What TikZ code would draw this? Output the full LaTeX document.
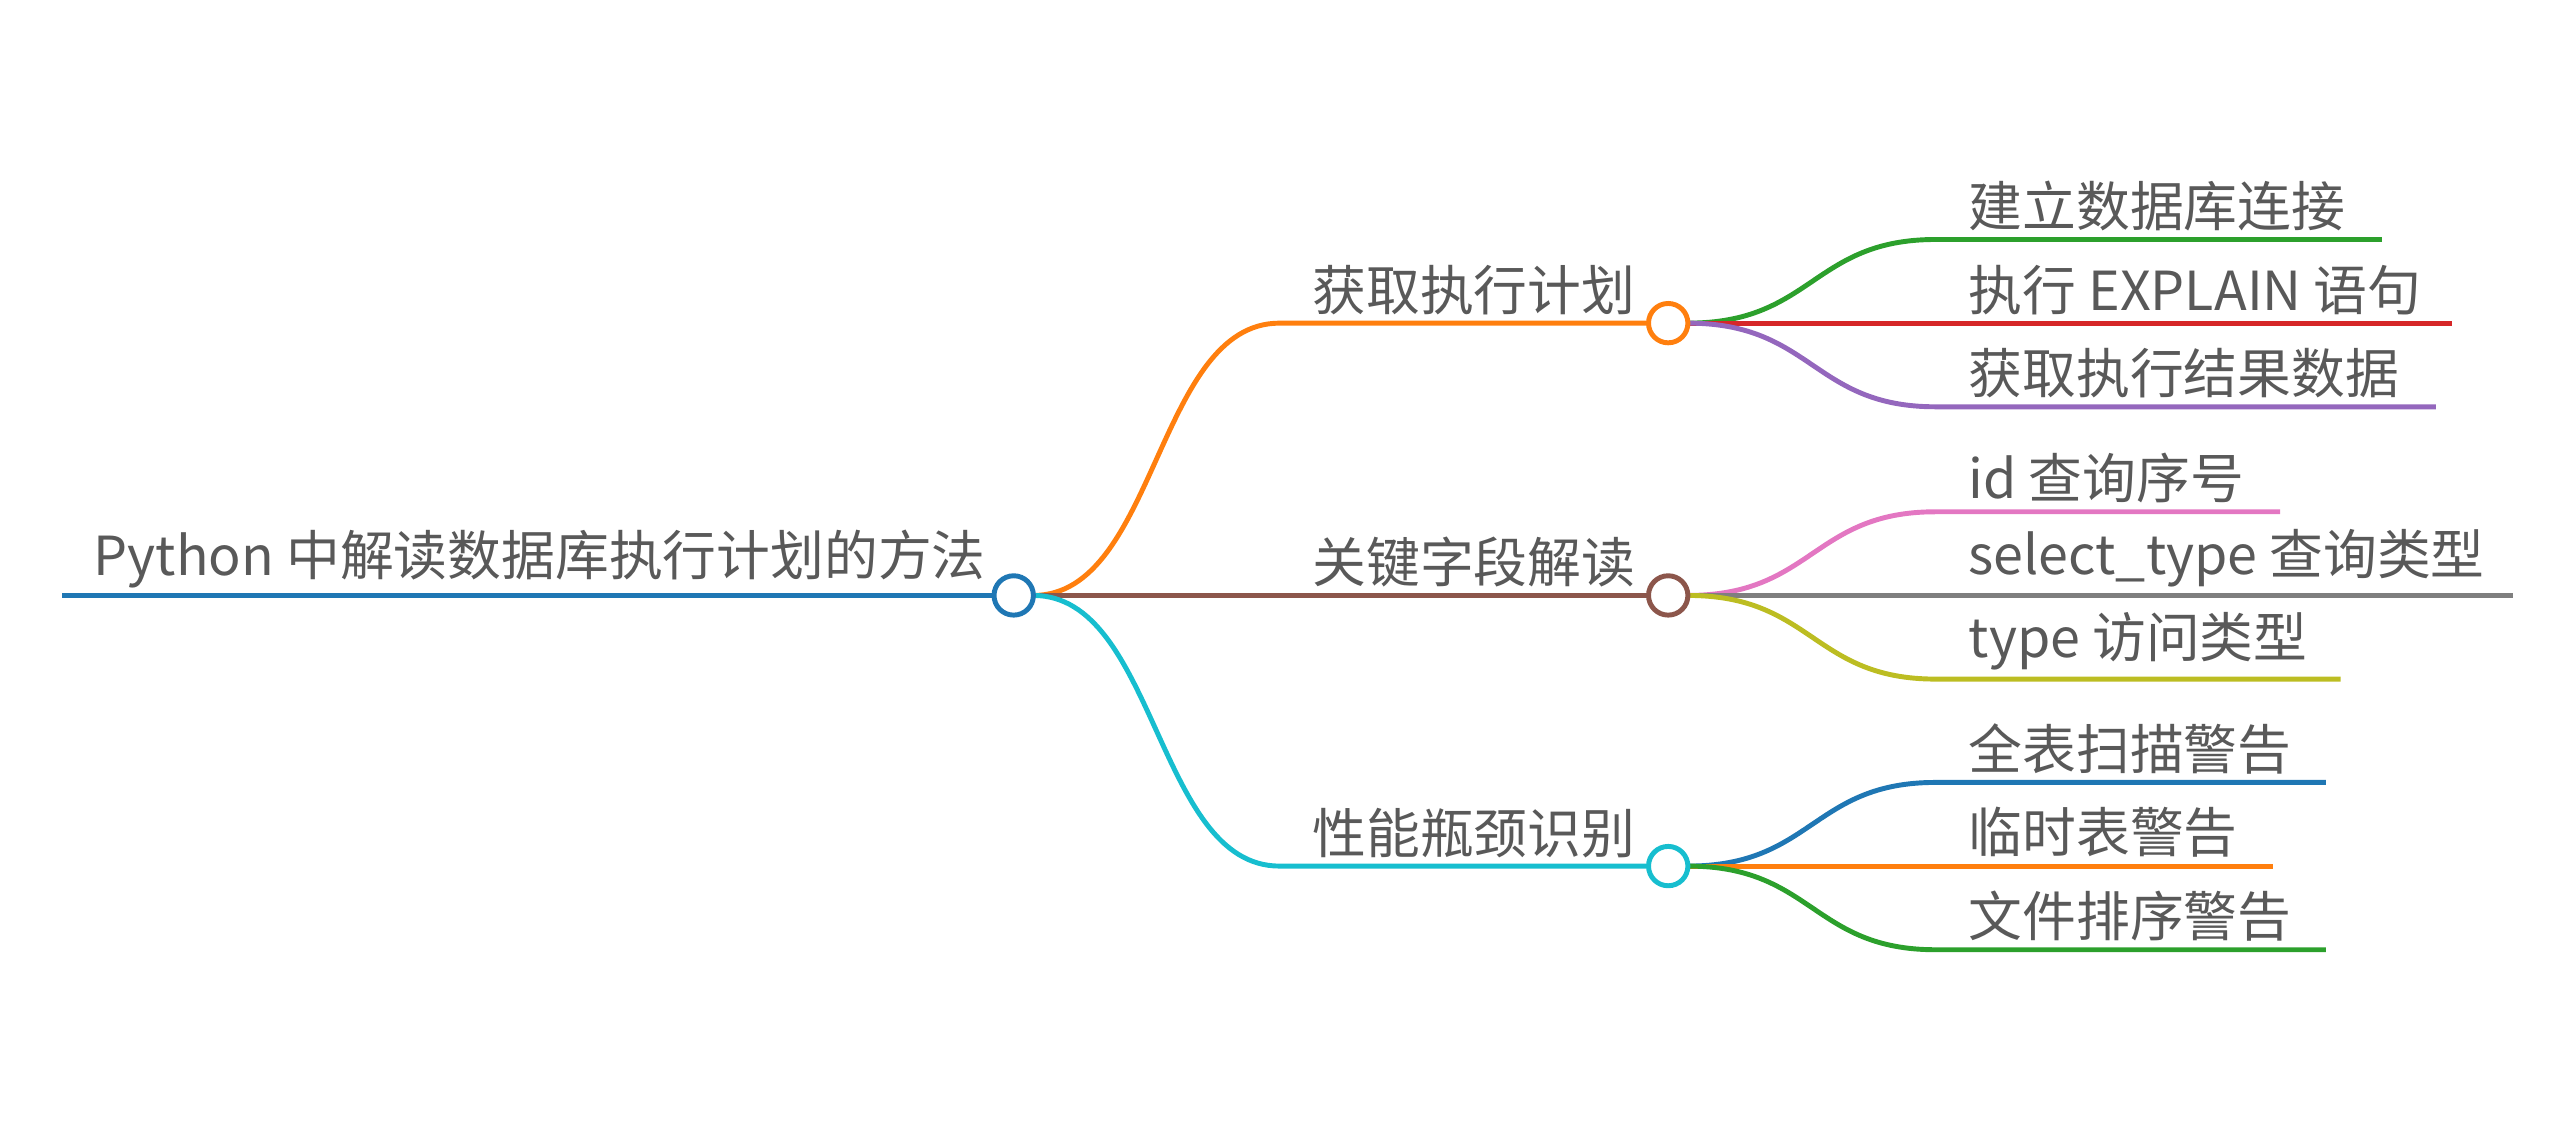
\documentclass[tikz,border=0pt]{standalone}
\usepackage{fontspec}
\setmainfont{Noto Sans CJK SC}[Scale=1]
\begin{document}
\begin{tikzpicture}[x=1pt,y=-1pt,
  lbl/.style={anchor=south west,inner sep=0pt,text=black!65,font=\fontsize{32.8}{38}\selectfont},
  ln/.style={line width=3pt},
  dot/.style={circle,draw,line width=3pt,fill=white,minimum size=24pt,inner sep=0pt}]
\useasboundingbox (0,0) rectangle (1568,685);
\definecolor{cO}{HTML}{FF7F0E}\definecolor{cB}{HTML}{8C564B}\definecolor{cC}{HTML}{17BECF}
\definecolor{cBl}{HTML}{1F77B4}\definecolor{cG}{HTML}{2CA02C}\definecolor{cR}{HTML}{D62728}
\definecolor{cP}{HTML}{9467BD}\definecolor{cPk}{HTML}{E377C2}\definecolor{cGr}{HTML}{7F7F7F}
\definecolor{cOl}{HTML}{BCBD22}
% root
\coordinate (r0) at (38,363);
\draw[ln,cBl] (r0) -- (618,363);
\node[lbl] (rt) at (57,359) {Python 中解读数据库执行计划的方法};
% branches
\foreach \n/\y/\c/\t in {a/197/cO/获取执行计划, b/363/cB/关键字段解读, c/528/cC/性能瓶颈识别}{
  \draw[ln,\c] (630,363) .. controls (705,363) and (705,\y) .. (780,\y) -- (1005,\y);
  \node[lbl] (\n t) at (800,\y-5) {\t};
}
\foreach \n/\y/\c/\e/\t in {
  a1/146/cG/1452/建立数据库连接, a2/197/cR/1495/执行 EXPLAIN 语句, a3/248/cP/1485/获取执行结果数据}{
  \draw[ln,\c] (1029,197) .. controls (1105,197) and (1105,\y) .. (1180,\y) -- (\e,\y);
  \node[lbl] (\n) at (1200,\y-5) {\t};}
\foreach \n/\y/\c/\e/\t in {
  b1/312/cPk/1390/id 查询序号, b2/363/cGr/1532/select\_type 查询类型, b3/414/cOl/1427/type 访问类型}{
  \draw[ln,\c] (1029,363) .. controls (1105,363) and (1105,\y) .. (1180,\y) -- (\e,\y);
  \node[lbl] (\n) at (1200,\y-5) {\t};}
\foreach \n/\y/\c/\e/\t in {
  c1/477/cBl/1418/全表扫描警告, c2/528/cO/1386/临时表警告, c3/579/cG/1418/文件排序警告}{
  \draw[ln,\c] (1029,528) .. controls (1105,528) and (1105,\y) .. (1180,\y) -- (\e,\y);
  \node[lbl] (\n) at (1200,\y-5) {\t};}
\node[dot,draw=cBl] (root) at (618,363) {};
\node[dot,draw=cO] (a) at (1017,197) {};
\node[dot,draw=cB] (b) at (1017,363) {};
\node[dot,draw=cC] (c) at (1017,528) {};
\end{tikzpicture}
\end{document}
